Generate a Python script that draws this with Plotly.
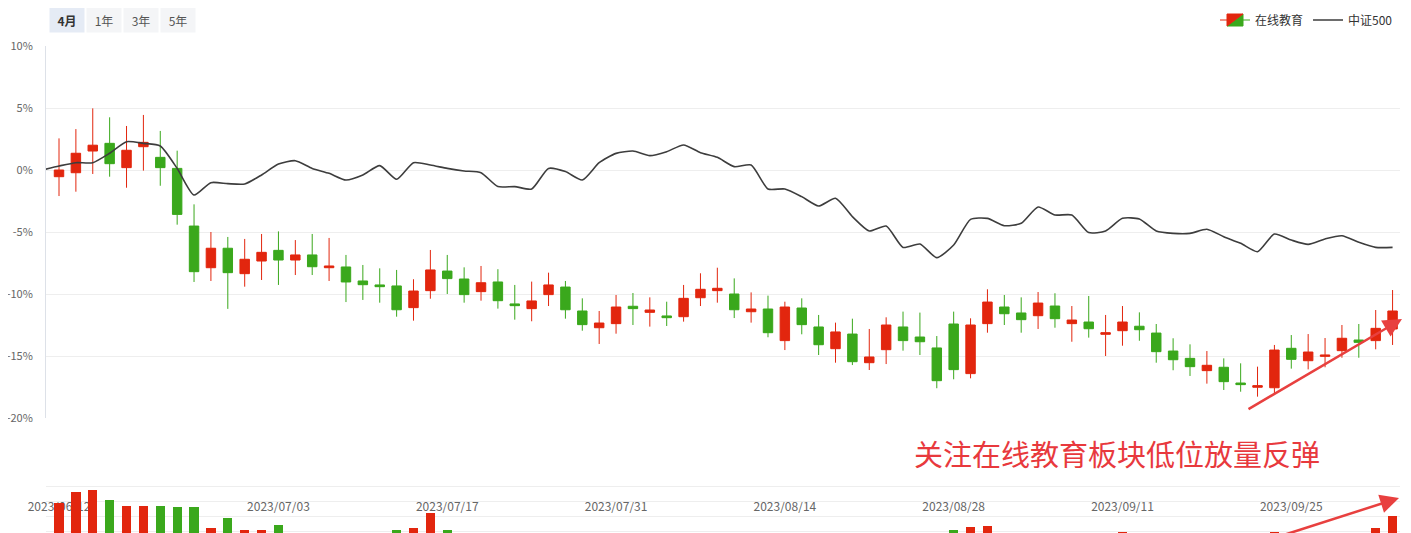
import plotly.graph_objects as go

# ---------------- data ----------------
dates = [
    "2023/06/12", "2023/06/13", "2023/06/14", "2023/06/15", "2023/06/16",
    "2023/06/19", "2023/06/20", "2023/06/21", "2023/06/26", "2023/06/27",
    "2023/06/28", "2023/06/29", "2023/06/30", "2023/07/03", "2023/07/04",
    "2023/07/05", "2023/07/06", "2023/07/07", "2023/07/10", "2023/07/11",
    "2023/07/12", "2023/07/13", "2023/07/14", "2023/07/17", "2023/07/18",
    "2023/07/19", "2023/07/20", "2023/07/21", "2023/07/24", "2023/07/25",
    "2023/07/26", "2023/07/27", "2023/07/28", "2023/07/31", "2023/08/01",
    "2023/08/02", "2023/08/03", "2023/08/04", "2023/08/07", "2023/08/08",
    "2023/08/09", "2023/08/10", "2023/08/11", "2023/08/14", "2023/08/15",
    "2023/08/16", "2023/08/17", "2023/08/18", "2023/08/21", "2023/08/22",
    "2023/08/23", "2023/08/24", "2023/08/25", "2023/08/28", "2023/08/29",
    "2023/08/30", "2023/08/31", "2023/09/01", "2023/09/04", "2023/09/05",
    "2023/09/06", "2023/09/07", "2023/09/08", "2023/09/11", "2023/09/12",
    "2023/09/13", "2023/09/14", "2023/09/15", "2023/09/18", "2023/09/19",
    "2023/09/20", "2023/09/21", "2023/09/22", "2023/09/25", "2023/09/26",
    "2023/09/27", "2023/09/28", "2023/10/09", "2023/10/10", "2023/10/11",
]
tick_labels = ["2023/06/12", "2023/07/03", "2023/07/17", "2023/07/31",
               "2023/08/14", "2023/08/28", "2023/09/11", "2023/09/25"]

# 在线教育 (cumulative % change)
opens = [-0.54, -0.22, 1.53, 2.15, 0.19, 1.88, 1.02, 0.13, -4.52, -7.88,
         -6.31, -8.36, -7.34, -6.48, -7.26, -6.85, -7.88, -7.82, -8.95, -9.27,
         -9.35, -11.10, -9.73, -8.15, -8.79, -9.81, -9.03, -10.80, -11.18, -10.05,
         -9.44, -11.37, -12.72, -12.39, -10.99, -11.48, -11.77, -11.83, -10.30, -9.73,
         -10.00, -11.43, -11.21, -13.76, -11.13, -12.66, -14.41, -13.23, -15.54, -14.49,
         -12.66, -13.47, -14.35, -12.42, -16.42, -12.39, -11.05, -11.53, -11.75, -10.97,
         -12.39, -12.26, -13.25, -12.96, -12.60, -13.15, -14.60, -15.19, -16.18, -15.91,
         -17.18, -17.52, -17.56, -14.38, -15.38, -15.03, -14.57, -13.71, -13.76, -12.82]
highs = [2.55, 3.30, 4.97, 4.25, 3.55, 4.44, 3.15, 1.56, -2.77, -5.00,
         -5.40, -5.56, -5.16, -4.95, -5.65, -5.16, -5.48, -6.85, -7.66, -7.93,
         -8.06, -8.81, -6.45, -6.85, -7.85, -7.74, -8.00, -9.27, -9.00, -8.28,
         -8.95, -10.35, -11.37, -10.08, -9.92, -10.27, -10.62, -9.27, -8.33, -7.88,
         -8.74, -9.87, -10.13, -10.62, -10.35, -11.69, -12.31, -11.99, -12.82, -11.88,
         -11.42, -11.50, -13.39, -11.42, -11.96, -9.62, -10.08, -10.27, -9.84, -9.94,
         -10.97, -10.16, -11.69, -10.97, -11.48, -12.42, -13.57, -14.06, -14.60, -15.19,
         -15.59, -15.86, -14.11, -13.31, -13.23, -13.55, -12.50, -12.42, -11.29, -9.68]
lows = [-2.10, -1.75, -0.32, -0.54, -1.43, -0.05, -1.27, -4.41, -9.03, -8.95,
        -11.20, -9.41, -8.87, -9.27, -8.47, -8.47, -8.95, -10.65, -10.48, -10.70,
        -11.83, -12.15, -10.38, -10.00, -10.70, -10.54, -11.18, -12.07, -12.20, -10.97,
        -11.99, -12.96, -14.03, -13.20, -12.50, -12.63, -12.58, -12.23, -10.97, -10.70,
        -11.94, -12.31, -13.49, -14.52, -13.25, -14.92, -15.54, -15.73, -16.13, -15.65,
        -14.57, -14.92, -17.60, -16.88, -16.80, -13.12, -12.50, -13.12, -12.82, -12.72,
        -13.85, -13.52, -15.00, -14.17, -13.77, -15.54, -16.15, -16.61, -17.23, -17.74,
        -17.88, -18.28, -18.00, -16.02, -16.08, -15.91, -15.14, -15.14, -14.46, -14.11]
closes = [0.00, 1.35, 2.00, 0.51, 1.59, 2.23, 0.19, -3.58, -8.20, -6.31,
          -8.28, -7.20, -6.64, -7.26, -6.85, -7.80, -7.74, -9.03, -9.25, -9.41,
          -11.27, -9.76, -8.06, -8.76, -10.05, -9.09, -10.54, -10.94, -10.56, -9.27,
          -11.27, -12.47, -12.34, -11.05, -11.18, -11.29, -11.91, -10.35, -9.62, -9.54,
          -11.27, -11.21, -13.12, -11.05, -12.47, -14.09, -13.06, -15.46, -15.08, -12.50,
          -13.76, -13.85, -16.99, -16.10, -12.50, -10.65, -11.59, -12.07, -10.73, -11.99,
          -12.10, -12.80, -13.12, -12.26, -12.88, -14.65, -15.30, -15.86, -15.75, -17.07,
          -17.31, -17.39, -14.52, -15.27, -14.68, -14.92, -13.57, -13.90, -12.77, -11.37]

# 中证500 (cumulative % change, first value = base day before 06/12)
csi500 = [0.00,
          0.32, 0.59, 0.59, 1.35, 2.28, 2.15, 1.94, 0.13, -2.02, -1.02,
          -1.10, -1.13, -0.40, 0.48, 0.75, 0.13, -0.27, -0.81, -0.40, 0.35,
          -0.75, 0.59, 0.40, 0.13, -0.08, -0.22, -1.34, -1.34, -1.53, 0.13,
          -0.13, -0.81, 0.59, 1.34, 1.53, 1.16, 1.48, 2.02, 1.40, 1.02,
          0.27, 0.40, -1.53, -1.53, -2.15, -2.90, -2.28, -3.76, -4.92, -4.52,
          -6.24, -5.97, -7.07, -6.05, -3.98, -3.90, -4.49, -4.30, -2.98, -3.63,
          -3.63, -5.05, -4.92, -3.90, -3.95, -4.92, -5.11, -5.11, -4.78, -5.38,
          -5.91, -6.59, -5.16, -5.65, -6.00, -5.56, -5.30, -5.83, -6.24, -6.24]

# 成交量 (relative units)
volume = [7.93, 8.63, 8.78, 8.11, 7.71, 7.71, 7.71, 7.65, 7.65, 6.25,
          6.91, 6.11, 6.11, 6.45, 5.40, 5.10, 5.00, 5.30, 5.20, 4.90,
          6.11, 6.25, 7.27, 6.11, 5.50, 5.00, 4.80, 4.60, 4.70, 4.90,
          5.10, 4.80, 4.60, 4.90, 5.00, 4.70, 4.50, 4.80, 5.20, 5.00,
          4.90, 4.70, 5.10, 5.40, 5.00, 5.20, 5.30, 5.50, 5.10, 5.60,
          5.20, 5.00, 5.70, 6.11, 6.29, 6.38, 5.40, 5.10, 5.30, 5.20,
          5.00, 4.90, 5.10, 6.00, 5.20, 5.30, 5.10, 4.90, 5.00, 5.40,
          5.20, 5.60, 5.98, 5.50, 5.30, 5.20, 5.40, 5.50, 6.23, 7.05]

y_ticks = [10, 5, 0, -5, -10, -15, -20]
y_tick_labels = ["10%", "5%", "0%", "-5%", "-10%", "-15%", "-20%"]
range_buttons = ["4月", "1年", "3年", "5年"]
note_text = "关注在线教育板块低位放量反弹"

# ---------------- styling ----------------
RED = "#e2260e"
GREEN = "#3aa81c"
FONT = "Noto Sans CJK SC"

idx = list(range(len(dates)))
line_x = [-1] + idx
tick_idx = [dates.index(d) for d in tick_labels]
vol_colors = [RED if c >= o else GREEN for o, c in zip(opens, closes)]

fig = go.Figure()
fig.add_trace(go.Candlestick(
    x=idx, open=opens, high=highs, low=lows, close=closes,
    name="在线教育",
    increasing=dict(line=dict(color=RED, width=1), fillcolor=RED),
    decreasing=dict(line=dict(color=GREEN, width=1), fillcolor=GREEN),
    xaxis="x", yaxis="y",
))
fig.add_trace(go.Scatter(
    x=line_x, y=csi500, mode="lines", name="中证500",
    line=dict(color="#3d3d3d", width=1.6, shape="spline", smoothing=0.6),
    xaxis="x", yaxis="y",
))
fig.add_trace(go.Bar(
    x=idx, y=volume, marker=dict(color=vol_colors, line=dict(width=0)),
    width=0.55, showlegend=False, xaxis="x2", yaxis="y2",
))

# page body has an 8px margin: screen (X, Y) -> figure (X-8, Y-8)
OFF = 8
W, H = 1411, 533
L = 46 - OFF
R = W - (1400 - OFF)
PW = W - L - R


def px_x(p):
    return (p - OFF - L) / PW


def px_y(p):
    return (H - (p - OFF)) / H


def cx(p):
    return (p - OFF) / W


annotations = []
btn_centers = [67, 104, 141, 178]
for i, (lab, bx) in enumerate(zip(range_buttons, btn_centers)):
    annotations.append(dict(
        text=("<b>%s</b>" % lab) if i == 0 else lab,
        x=px_x(bx), y=px_y(20.5), xref="paper", yref="paper",
        showarrow=False, width=32, height=22,
        bgcolor="#e5ebf5" if i == 0 else "#f4f5f7",
        font=dict(family=FONT, size=12, color="#333" if i == 0 else "#555"),
        xanchor="center", yanchor="middle",
    ))
annotations.append(dict(
    text=note_text, x=px_x(1116.5), y=px_y(453), xref="paper", yref="paper",
    showarrow=False, font=dict(family=FONT, size=29, color="#e8393d"),
    xanchor="center", yanchor="middle",
))
annotations.append(dict(
    text="", x=px_x(1402), y=px_y(319), xref="paper", yref="paper",
    showarrow=True, ax=-155, ay=91, arrowhead=2, arrowsize=1.5,
    arrowwidth=2.5, arrowcolor="#e8403f", standoff=0,
))
annotations.append(dict(
    text="", x=px_x(1399), y=px_y(498), xref="paper", yref="paper",
    showarrow=True, ax=-134, ay=45, arrowhead=2, arrowsize=1.5,
    arrowwidth=2.5, arrowcolor="#e8403f", standoff=0,
))

fig.update_layout(
    width=W, height=H,
    margin=dict(l=L, r=R, t=0, b=0, autoexpand=False),
    paper_bgcolor="white", plot_bgcolor="white",
    font=dict(family=FONT, size=11, color="#666"),
    boxgap=0.2, boxgroupgap=0.3,
    showlegend=True,
    legend=dict(
        orientation="h", xref="container", yref="container",
        x=cx(1398), xanchor="right",
        y=(H - (20 - OFF)) / H, yanchor="middle",
        font=dict(family=FONT, size=12, color="#333"),
        bgcolor="rgba(0,0,0,0)", itemwidth=30,
    ),
    xaxis=dict(
        domain=[0, 1], anchor="y", range=[-0.77, 79.44], automargin=False,
        showgrid=False, zeroline=False, showline=False,
        tickmode="array", tickvals=tick_idx, ticktext=tick_labels,
        ticks="", ticklabelstandoff=80,
        tickfont=dict(family=FONT, size=12, color="#666"),
        rangeslider=dict(visible=False),
    ),
    yaxis=dict(
        domain=[px_y(418), px_y(46)], anchor="x", range=[-20, 10],
        automargin=False,
        tickmode="array", tickvals=y_ticks, ticktext=y_tick_labels,
        gridcolor="#eeeeee", gridwidth=1, zeroline=False,
        showline=True, linecolor="#dde1e8", linewidth=1,
        ticks="outside", ticklen=10, tickcolor="rgba(0,0,0,0)",
        tickfont=dict(family=FONT, size=11, color="#666"),
    ),
    xaxis2=dict(
        domain=[0, 1], anchor="y2", matches="x", automargin=False,
        showticklabels=False, showgrid=False, zeroline=False, showline=False,
    ),
    yaxis2=dict(
        domain=[0, px_y(471)], anchor="x2", range=[5.38, 10.05],
        automargin=False,
        tickmode="array", tickvals=[6, 7, 8, 9, 10],
        showticklabels=False, gridcolor="#eeeeee", zeroline=False,
        showline=False,
    ),
    annotations=annotations,
    bargap=0,
)

fig.write_html("out.html")
